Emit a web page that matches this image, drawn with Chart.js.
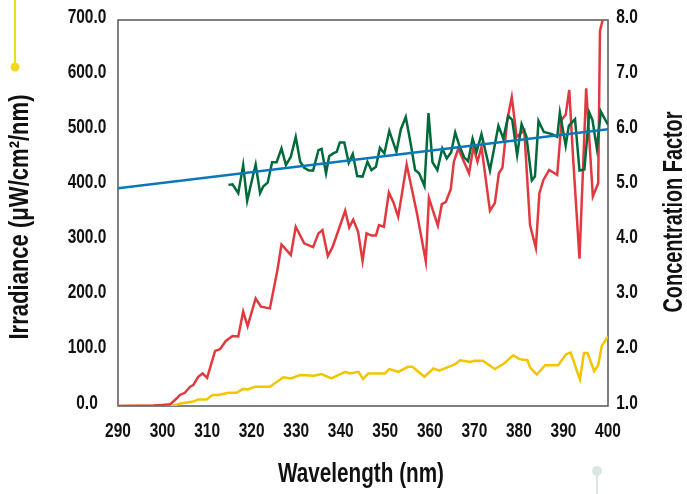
<!DOCTYPE html>
<html>
<head>
<meta charset="utf-8">
<script src="https://cdn.jsdelivr.net/npm/chart.js@4"></script>
<style>
	html, body { margin: 0; padding: 0; background: #fff; }
	canvas { display: block; }
</style>
</head>
<body>
<canvas id="myChart" width="687" height="494"></canvas>
<script>
// wavelength (nm) / value pairs
const redNm = [290, 298, 300, 301.7, 303.2, 303.9, 305, 306.2, 306.9, 308, 309, 310, 311.8, 312.9, 314.2, 315.7, 317, 318.1, 319.1, 320.9, 322.1, 324.1, 325.8, 326.7, 328.8, 329.9, 331.8, 333.8, 335, 335.9, 337.1, 338.2, 341, 341.9, 342.8, 343.9, 344.9, 345.8, 346.9, 347.9, 348.6, 349.7, 350.8, 351.8, 352.9, 354.8, 357.1, 359.1, 359.8, 361.8, 362.7, 363.6, 364.7, 365.4, 366.4, 367.5, 368.8, 369.8, 370.7, 371.6, 373.5, 374.6, 375.5, 376.3, 377.4, 378.4, 379.5, 381.2, 382.5, 383.8, 384.6, 385.5, 386.8, 388.6, 389.6, 390.5, 391.3, 392.2, 393.6, 395.1, 396.6, 397.8, 398.2, 400];
const redVal = [0, 1, 2, 3, 14, 20, 24, 35, 38, 53, 59, 51, 100, 103, 118, 127, 126, 171, 145, 195, 180, 177, 247, 293, 274, 325, 295, 288, 313, 319, 272, 289, 354, 324, 338, 316, 263, 313, 309, 309, 328, 325, 387, 370, 343, 438, 350, 262, 377, 327, 366, 370, 393, 443, 467, 446, 422, 470, 443, 470, 354, 368, 422, 432, 519, 560, 488, 500, 328, 287, 386, 410, 428, 419, 519, 528, 573, 446, 267, 576, 380, 404, 680, 740];

const yellowNm = [290, 302, 304.3, 306.9, 308, 309.9, 311.2, 312.5, 314.8, 316.6, 318.1, 319.1, 320.8, 324.1, 327.1, 328.8, 330.9, 334, 335.7, 337.9, 341, 342, 344, 345, 346.2, 349.9, 350.9, 352.9, 355.1, 356.1, 358.8, 360.8, 362.1, 364.2, 365.7, 366.8, 369.1, 370, 371.9, 374.6, 376.5, 378.7, 380.1, 381.9, 382.5, 384, 385.9, 388.8, 390.6, 391.6, 393.7, 394.6, 395.4, 396.9, 397.8, 398.6, 400];
const yellowVal = [0, 0, 5, 8, 12, 12, 20, 20, 24, 24, 31, 30, 35, 35, 52, 50, 56, 55, 58, 50, 62, 59, 62, 49, 59, 59, 67, 62, 71, 71, 53, 68, 64, 71, 76, 83, 80, 82, 82, 67, 76, 92, 85, 83, 70, 57, 74, 74, 94, 97, 48, 96, 96, 63, 74, 109, 126];

const greenNm = [314.8, 315.7, 317, 318.1, 319, 320, 320.9, 321.9, 322.6, 323.6, 324.6, 325.6, 326.7, 327.7, 328.8, 329.9, 330.9, 331.8, 332.9, 333.8, 335, 335.7, 336.7, 337.4, 338.3, 339.1, 339.8, 340.8, 341.8, 342.7, 343.7, 344.9, 346, 346.9, 347.9, 348.8, 349.8, 350.9, 352.5, 353.5, 354.6, 355.7, 356.7, 357.6, 358.8, 359.7, 360.6, 361.7, 362.8, 363.8, 364.8, 365.7, 366.6, 367.7, 368.6, 369.6, 370.5, 371.6, 373.5, 375.4, 376.5, 377.6, 378.5, 379.6, 380.6, 381.7, 382.9, 383.6, 384.4, 385.6, 387.4, 388.6, 389.2, 390.5, 391.2, 392.6, 393.6, 394.7, 395.8, 396.5, 397.5, 398.4, 400];
const greenVal = [5.01, 5.02, 4.86, 5.37, 4.72, 5.07, 5.38, 4.86, 4.98, 5.05, 5.42, 5.42, 5.67, 5.37, 5.52, 5.88, 5.43, 5.32, 5.27, 5.27, 5.64, 5.66, 5.22, 5.53, 5.58, 5.61, 5.78, 5.78, 5.41, 5.57, 5.17, 5.16, 5.43, 5.28, 5.34, 5.68, 5.58, 5.99, 5.61, 6.02, 6.24, 5.76, 5.28, 5.22, 4.99, 6.31, 5.42, 5.28, 5.67, 5.49, 5.60, 5.96, 5.73, 5.51, 5.44, 5.85, 5.61, 5.93, 5.27, 6.08, 5.85, 6.26, 6.19, 5.55, 6.11, 5.88, 5.09, 5.16, 6.17, 5.97, 5.93, 5.88, 6.32, 5.72, 6.08, 6.20, 5.27, 5.29, 6.32, 6.19, 5.67, 6.34, 6.10];

const blueNm = [290, 400];
const blueVal = [4.95, 6.02];

const leftTitle = 'Irradiance (\u03bcW/cm\u00b2/nm)';
const rightTitle = 'Concentration Factor';
const bottomTitle = 'Wavelength (nm)';

const fontFamily = "'Liberation Sans', Arial, sans-serif";

function toPoints(xs, ys) {
	return xs.map((x, i) => ({x, y: ys[i]}));
}

// the reference uses a narrow gothic face, so squeeze the text sideways
function narrowText(ctx, text, x, y, align, sx) {
	ctx.save();
	ctx.translate(x, y);
	ctx.scale(sx, 1);
	ctx.textAlign = align;
	ctx.fillText(text, 0, 0);
	ctx.restore();
}

function fitScale(ctx, text, width) {
	return width / ctx.measureText(text).width;
}

const extras = {
	id: 'extras',
	beforeDatasetsDraw(chart) {
		const {ctx, chartArea: a} = chart;
		ctx.save();
		ctx.strokeStyle = '#555';
		ctx.lineWidth = 1.5;
		ctx.strokeRect(a.left, a.top, a.right - a.left, a.bottom - a.top);
		ctx.restore();
	},
	afterDraw(chart) {
		const ctx = chart.ctx;
		const {x, y, y1} = chart.scales;
		ctx.save();
		ctx.fillStyle = '#111';
		ctx.textBaseline = 'middle';

		// tick labels
		ctx.font = 'bold 20px ' + fontFamily;
		const sx = fitScale(ctx, '0.0', 21.5);
		y.ticks.forEach(t => narrowText(ctx, t.label, 87, y.getPixelForValue(t.value) - 3, 'center', sx));
		y1.ticks.forEach(t => narrowText(ctx, t.label, 627, y1.getPixelForValue(t.value) - 3, 'center', sx));
		x.ticks.forEach(t => narrowText(ctx, t.label, x.getPixelForValue(t.value), 431, 'center', sx));

		// axis titles
		ctx.font = 'bold 27px ' + fontFamily;
		ctx.save();
		ctx.translate(21, 217);
		ctx.rotate(-Math.PI / 2);
		narrowText(ctx, leftTitle, 0, 0, 'center', fitScale(ctx, leftTitle, 245));
		ctx.restore();

		ctx.save();
		ctx.translate(675, 212);
		ctx.rotate(-Math.PI / 2);
		narrowText(ctx, rightTitle, 0, 0, 'center', fitScale(ctx, rightTitle, 201));
		ctx.restore();

		narrowText(ctx, bottomTitle, 361, 475, 'center', fitScale(ctx, bottomTitle, 166));

		// little pins in the corners
		ctx.strokeStyle = '#f3d81c';
		ctx.fillStyle = '#f3d81c';
		ctx.lineWidth = 2;
		ctx.beginPath();
		ctx.moveTo(15, 0);
		ctx.lineTo(15, 66);
		ctx.stroke();
		ctx.beginPath();
		ctx.arc(15, 67, 4.5, 0, Math.PI * 2);
		ctx.fill();

		ctx.strokeStyle = '#dce6e0';
		ctx.fillStyle = '#dce6e0';
		ctx.beginPath();
		ctx.moveTo(597, 471);
		ctx.lineTo(597, 494);
		ctx.stroke();
		ctx.beginPath();
		ctx.arc(597, 471, 5, 0, Math.PI * 2);
		ctx.fill();
		ctx.restore();
	}
};

const ctx = document.getElementById('myChart');
const myChart = new Chart(ctx, {
	type: 'line',
	data: {
		datasets: [
			{data: toPoints(blueNm, blueVal), yAxisID: 'y1', borderColor: '#0a77b9', borderWidth: 2.5},
			{data: toPoints(greenNm, greenVal), yAxisID: 'y1', borderColor: '#006a3b', borderWidth: 2.5},
			{data: toPoints(redNm, redVal), yAxisID: 'y', borderColor: '#e0393f', borderWidth: 2.5},
			{data: toPoints(yellowNm, yellowVal), yAxisID: 'y', borderColor: '#f1c500', borderWidth: 2.5}
		]
	},
	options: {
		responsive: false,
		animation: false,
		elements: {point: {radius: 0}, line: {tension: 0}},
		layout: {padding: {top: 20, left: 0, right: 0, bottom: 0}},
		plugins: {legend: {display: false}, tooltip: {enabled: false}},
		scales: {
			x: {
				type: 'linear',
				min: 290,
				max: 400,
				grid: {display: false, drawTicks: false},
				border: {display: false},
				ticks: {stepSize: 10, display: false},
				afterFit: s => { s.height = 88; }
			},
			y: {
				position: 'left',
				min: 0,
				max: 700,
				grid: {display: false, drawTicks: false},
				border: {display: false},
				ticks: {stepSize: 100, display: false, callback: v => v.toFixed(1)},
				afterFit: s => { s.width = 118; }
			},
			y1: {
				position: 'right',
				min: 1,
				max: 8,
				grid: {display: false, drawTicks: false},
				border: {display: false},
				ticks: {stepSize: 1, display: false, callback: v => v.toFixed(1)},
				afterFit: s => { s.width = 79; }
			}
		}
	},
	plugins: [extras]
});
</script>
</body>
</html>
